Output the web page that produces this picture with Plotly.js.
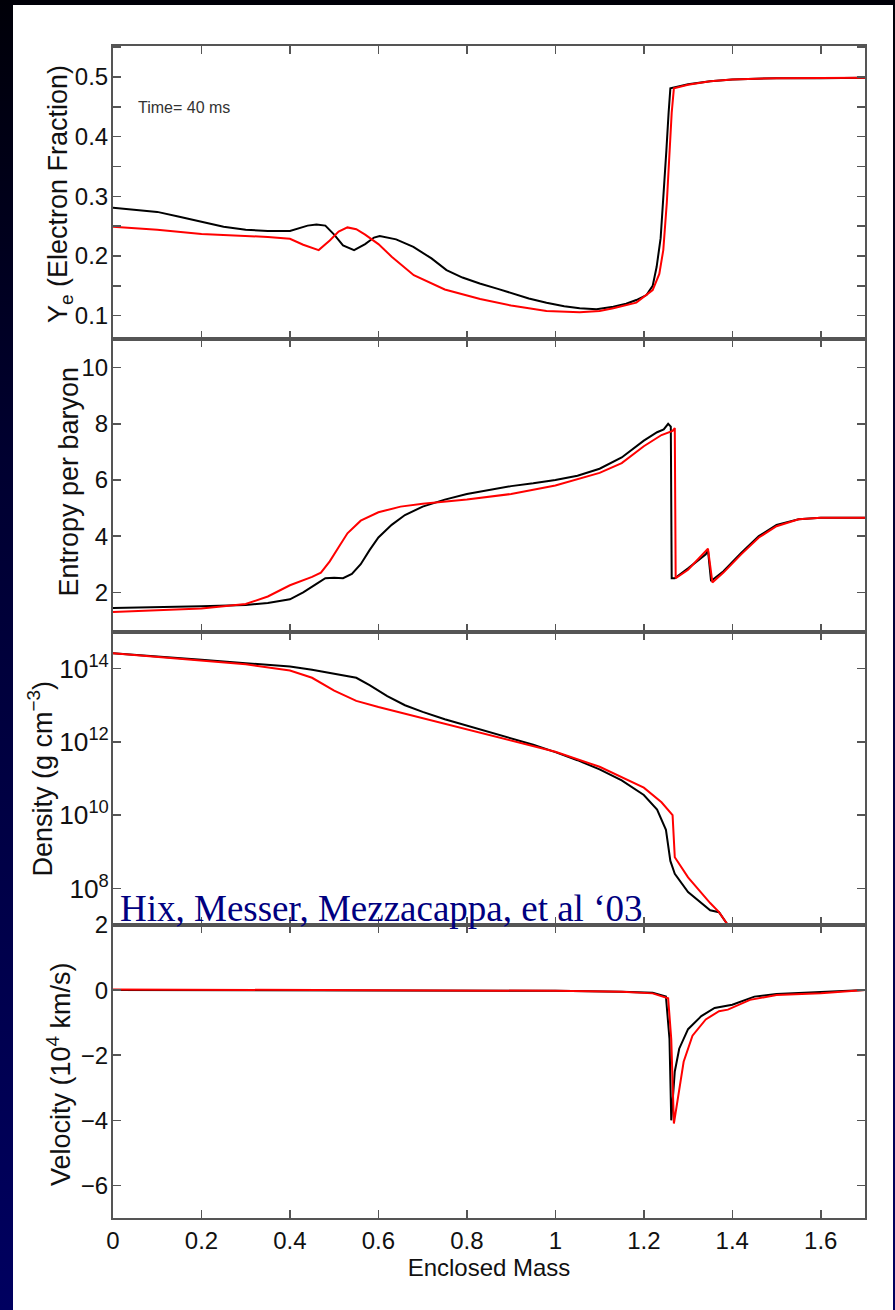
<!DOCTYPE html>
<html>
<head>
<meta charset="utf-8">
<script src="https://cdn.plot.ly/plotly-3.0.1.min.js"></script>
<style>
html,body{margin:0;padding:0;}
body{width:895px;height:1310px;overflow:hidden;background:linear-gradient(to bottom,#000008 0%,#000030 35%,#000060 100%);position:relative;}
#plot{position:absolute;left:13px;top:5px;width:880px;height:1305px;}
</style>
</head>
<body>
<div id="plot"></div>
<script>
// Electron fraction
const yeMassBlack = [0,0.05,0.1,0.15,0.2,0.25,0.3,0.35,0.4,0.42,0.44,0.46,0.48,0.5,0.52,0.545,0.57,0.59,0.603,0.64,0.679,0.72,0.754,0.79,0.829,0.87,0.904,0.94,0.98,1.02,1.055,1.093,1.131,1.16,1.183,1.206,1.22,1.229,1.238,1.244,1.251,1.256,1.26,1.3,1.35,1.4,1.5,1.6,1.7];
const yeBlack = [0.281,0.278,0.274,0.266,0.257,0.249,0.244,0.242,0.242,0.246,0.251,0.253,0.251,0.236,0.218,0.210,0.220,0.231,0.2334,0.228,0.2155,0.196,0.1765,0.164,0.154,0.145,0.1375,0.129,0.1218,0.116,0.1124,0.1107,0.115,0.120,0.1263,0.1346,0.150,0.182,0.23,0.294,0.377,0.44,0.481,0.488,0.493,0.496,0.498,0.498,0.499];
const yeMassRed = [0,0.1,0.2,0.3,0.35,0.4,0.43,0.465,0.49,0.51,0.53,0.55,0.57,0.6,0.63,0.68,0.75,0.83,0.9,0.98,1.055,1.1,1.131,1.183,1.22,1.235,1.244,1.252,1.258,1.263,1.268,1.3,1.35,1.4,1.5,1.7];
const yeRed = [0.249,0.244,0.237,0.234,0.232,0.229,0.219,0.210,0.226,0.241,0.248,0.245,0.236,0.220,0.199,0.168,0.144,0.128,0.117,0.108,0.1057,0.108,0.1124,0.122,0.143,0.17,0.21,0.29,0.377,0.44,0.481,0.487,0.493,0.496,0.498,0.499];

// Entropy per baryon
const sMassBlack = [0,0.1,0.2,0.3,0.35,0.4,0.43,0.46,0.48,0.5,0.52,0.54,0.56,0.58,0.6,0.63,0.66,0.7,0.75,0.8,0.85,0.9,0.95,1.0,1.05,1.1,1.15,1.2,1.23,1.245,1.255,1.261,1.263,1.27,1.3,1.34,1.345,1.352,1.38,1.42,1.46,1.5,1.55,1.6,1.7];
const sBlack = [1.44,1.46,1.50,1.55,1.62,1.75,2.0,2.3,2.5,2.52,2.5,2.65,3.0,3.5,3.95,4.4,4.75,5.05,5.3,5.5,5.65,5.78,5.88,6.0,6.15,6.4,6.8,7.4,7.7,7.8,8.0,7.9,2.5,2.5,2.85,3.35,3.5,2.4,2.75,3.4,4.0,4.4,4.6,4.65,4.65];
const sMassRed = [0,0.1,0.2,0.3,0.35,0.4,0.45,0.47,0.49,0.51,0.53,0.56,0.6,0.65,0.7,0.8,0.9,1.0,1.1,1.15,1.2,1.24,1.265,1.27,1.272,1.3,1.345,1.355,1.38,1.42,1.46,1.5,1.55,1.6,1.7];
const sRed = [1.30,1.35,1.42,1.58,1.85,2.25,2.55,2.7,3.1,3.6,4.1,4.55,4.85,5.05,5.15,5.3,5.5,5.8,6.25,6.6,7.2,7.6,7.75,7.85,2.5,2.8,3.55,2.35,2.7,3.35,3.95,4.35,4.6,4.65,4.65];

// Density (log10 g cm^-3)
const dMassBlack = [0,0.1,0.2,0.3,0.4,0.45,0.5,0.55,0.58,0.62,0.66,0.7,0.75,0.8,0.85,0.9,0.95,1.0,1.05,1.1,1.15,1.2,1.23,1.25,1.255,1.26,1.27,1.3,1.35,1.37,1.39];
const dLogBlack = [14.42,14.32,14.24,14.15,14.06,13.97,13.85,13.75,13.55,13.25,13.0,12.82,12.62,12.45,12.28,12.1,11.92,11.72,11.5,11.25,10.95,10.55,10.15,9.6,9.2,8.75,8.4,7.9,7.4,7.35,7.0];
const dMassRed = [0,0.1,0.2,0.3,0.4,0.45,0.5,0.55,0.6,0.65,0.7,0.75,0.8,0.9,1.0,1.1,1.2,1.24,1.265,1.27,1.3,1.35,1.37,1.39];
const dLogRed = [14.42,14.32,14.22,14.12,13.95,13.75,13.4,13.12,12.95,12.8,12.65,12.5,12.35,12.05,11.73,11.32,10.75,10.35,10.0,8.85,8.3,7.6,7.35,7.0];
const densBlack = dLogBlack.map(v => Math.pow(10, v));
const densRed = dLogRed.map(v => Math.pow(10, v));

// Velocity (10^4 km/s)
const vMassBlack = [0,0.5,1.0,1.15,1.22,1.25,1.258,1.262,1.27,1.28,1.3,1.33,1.36,1.4,1.45,1.5,1.6,1.7];
const vBlack = [0,0,-0.02,-0.05,-0.08,-0.2,-1.5,-4.0,-2.5,-1.8,-1.2,-0.8,-0.55,-0.45,-0.2,-0.12,-0.06,0];
const vMassRed = [0,0.5,1.0,1.15,1.22,1.255,1.262,1.268,1.28,1.29,1.31,1.34,1.37,1.39,1.44,1.5,1.6,1.7];
const vRed = [0.02,0.01,-0.02,-0.05,-0.1,-0.25,-1.5,-4.1,-3.0,-2.2,-1.4,-0.9,-0.65,-0.6,-0.3,-0.15,-0.1,0];

const xTickVals = [0,0.2,0.4,0.6,0.8,1,1.2,1.4,1.6];
const yTitles = ['Y<sub>e</sub> (Electron Fraction)', 'Entropy per baryon', 'Density (g cm<sup>\u22123</sup>)', 'Velocity (10<sup>4</sup> km/s)'];

const lineBlack = {color:'#000000', width:2};
const lineRed = {color:'#ff0000', width:2};

const traces = [
  {x:yeMassBlack, y:yeBlack, xaxis:'x', yaxis:'y', mode:'lines', line:lineBlack},
  {x:yeMassRed, y:yeRed, xaxis:'x', yaxis:'y', mode:'lines', line:lineRed},
  {x:sMassBlack, y:sBlack, xaxis:'x2', yaxis:'y2', mode:'lines', line:lineBlack},
  {x:sMassRed, y:sRed, xaxis:'x2', yaxis:'y2', mode:'lines', line:lineRed},
  {x:dMassBlack, y:densBlack, xaxis:'x3', yaxis:'y3', mode:'lines', line:lineBlack},
  {x:dMassRed, y:densRed, xaxis:'x3', yaxis:'y3', mode:'lines', line:lineRed},
  {x:vMassBlack, y:vBlack, xaxis:'x4', yaxis:'y4', mode:'lines', line:lineBlack},
  {x:vMassRed, y:vRed, xaxis:'x4', yaxis:'y4', mode:'lines', line:lineRed}
];

const axCol = '#555555';
const sans = 'Liberation Sans, Arial, sans-serif';
const tickFont = {family:sans, size:24, color:'#111111'};
const titleFont = {family:sans, size:27, color:'#111111'};

function xax(anchor, labels){
  const a = {
    anchor: anchor, range:[0,1.7], tickvals:xTickVals, ticks:'inside', ticklen:8, tickwidth:1.5,
    tickcolor:axCol, showline:true, linecolor:axCol, linewidth:2, mirror:'ticks',
    showgrid:false, zeroline:false, showticklabels:labels,
    tickfont:{family:sans, size:24, color:'#111111'}
  };
  if (anchor !== 'y') a.matches = 'x';
  return a;
}
function yax(domain, extra){
  return Object.assign({
    domain:domain, ticks:'inside', ticklen:8, tickwidth:1.5, tickcolor:axCol,
    showline:true, linecolor:axCol, linewidth:2, mirror:'ticks', showgrid:false, zeroline:false,
    tickfont:tickFont, ticklabelstandoff:-2
  }, extra);
}

// y-axis titles placed beside each panel
const titleX = [-53, -45, -73, -54];
const titleY = [0.875, 0.625, 0.375, 0.125];
const titleShift = [-1.5, 4, 0, -2.5];
const yTitleAnn = yTitles.map((t, i) => ({
  xref:'paper', yref:'paper', x:0, y:titleY[i], xanchor:'center', yanchor:'middle',
  xshift:titleX[i], yshift:titleShift[i], textangle:-90, showarrow:false, text:t, font:titleFont
}));

const layout = {
  width:880, height:1305,
  margin:{l:100, r:28, t:41, b:92},
  paper_bgcolor:'#ffffff', plot_bgcolor:'#ffffff',
  showlegend:false,
  xaxis: xax('y', false),
  xaxis2: xax('y2', false),
  xaxis3: xax('y3', false),
  xaxis4: Object.assign(xax('y4', true), {title:{text:'Enclosed Mass', font:{family:sans, size:24, color:'#111111'}, standoff:6}}),
  yaxis: yax([0.75,1], {anchor:'x', range:[0.061,0.552], tickvals:[0.1,0.2,0.3,0.4,0.5], ticktext:['0.1','0.2','0.3','0.4','0.5'],
    minor:{dtick:0.05, tick0:0, ticks:'inside', ticklen:8, tickwidth:1.5, tickcolor:axCol}}),
  yaxis2: yax([0.5,0.75], {anchor:'x2', range:[0.585,11.02], tickvals:[2,4,6,8,10]}),
  yaxis3: yax([0.25,0.5], {anchor:'x3', type:'log', range:[7,15], dtick:2, tick0:0, exponentformat:'power',
    tickfont:{family:sans, size:21, color:'#111111'}}),
  yaxis4: yax([0,0.25], {anchor:'x4', range:[-7,2], tickvals:[-6,-4,-2,0,2], ticktext:['\u22126','\u22124','\u22122','0','2']}),
  annotations: yTitleAnn.concat([
    {xref:'x', yref:'y', x:0.052, y:0.449, xanchor:'left', yanchor:'middle', showarrow:false,
     text:'Time= 40 ms', font:{family:sans, size:16, color:'#333333'}},
    {xref:'paper', yref:'paper', x:0.006, y:0.25, xanchor:'left', yanchor:'bottom', yshift:-6, showarrow:false,
     text:'Hix, Messer, Mezzacappa, et al \u201803', font:{family:'Liberation Serif, Times New Roman, serif', size:37, color:'#000080'}}
  ])
};

Plotly.newPlot('plot', traces, layout, {displayModeBar:false, staticPlot:true});
</script>
</body>
</html>
